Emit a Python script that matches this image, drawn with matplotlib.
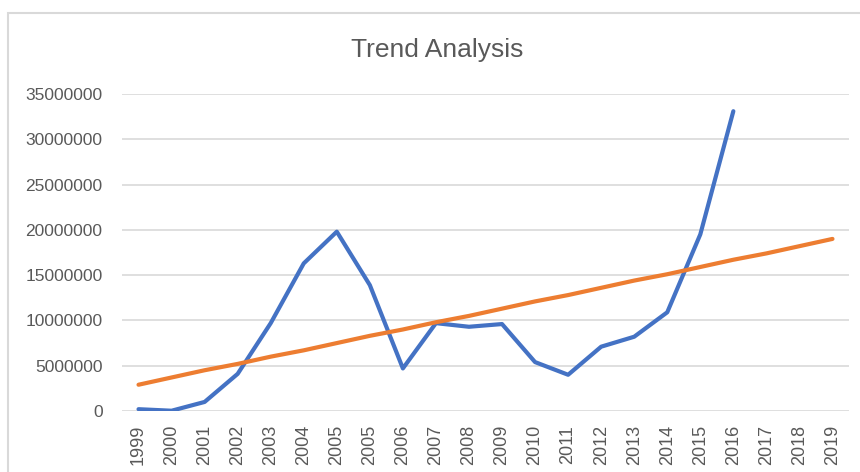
import matplotlib.pyplot as plt
from matplotlib.patches import Rectangle
from matplotlib.ticker import FixedLocator

# category labels (2005 appears twice in the source sheet)
years = ['1999', '2000', '2001', '2002', '2003', '2004', '2005', '2005',
         '2006', '2007', '2008', '2009', '2010', '2011', '2012', '2013',
         '2014', '2015', '2016', '2017', '2018', '2019']

# actual values, data stops at 2016
actual = [200000, 30000, 1000000, 4100000, 9700000, 16300000, 19800000,
          13900000, 4700000, 9700000, 9300000, 9600000, 5400000, 4000000,
          7100000, 8200000, 10900000, 19500000, 33100000]

# trend line values
trend = [2900000, 3700000, 4500000, 5200000, 6000000, 6700000, 7500000,
         8300000, 9000000, 9800000, 10500000, 11300000, 12100000, 12800000,
         13600000, 14400000, 15100000, 15900000, 16700000, 17400000,
         18200000, 19000000]

yticks = [0, 5000000, 10000000, 15000000, 20000000, 25000000, 30000000, 35000000]

text_col = '#595959'
grid_col = '#d9d9d9'
font = ['Liberation Sans', 'DejaVu Sans']

fig = plt.figure(figsize=(8.6, 4.72), dpi=100)
fig.patches.append(Rectangle((8 / 860, -0.1), 1.2, (472 - 13) / 472 + 0.1,
                             transform=fig.transFigure, fill=False,
                             edgecolor=grid_col, linewidth=1.5))

ax = fig.add_axes([122 / 860, 61 / 472, 727 / 860, 317 / 472])

ax.plot(range(len(actual)), actual, color='#4472c4', linewidth=3,
        solid_capstyle='round', solid_joinstyle='round', zorder=3)
ax.plot(range(len(trend)), trend, color='#ed7d31', linewidth=3,
        solid_capstyle='round', solid_joinstyle='round', zorder=3)

ax.set_xlim(-0.5, len(years) - 0.5)
ax.set_ylim(0, 35000000)
ax.yaxis.set_major_locator(FixedLocator(yticks))
ax.set_yticklabels([str(v) for v in yticks], family=font, fontsize=12.5,
                   color=text_col)
ax.set_xticks(range(len(years)))
ax.set_xticklabels(years, rotation=90, family=font, fontsize=13,
                   color=text_col)
ax.tick_params(axis='both', length=0)
ax.tick_params(axis='y', pad=14)
ax.tick_params(axis='x', pad=10)

ax.grid(axis='y', color=grid_col, linewidth=1.2)
ax.set_axisbelow(True)
for side in ['top', 'right', 'left', 'bottom']:
    ax.spines[side].set_visible(False)

fig.text(437 / 860, 1 - 50 / 472, 'Trend Analysis', ha='center', va='center',
         family=font, fontsize=19, color=text_col)

fig.savefig('out.png', dpi=100)
